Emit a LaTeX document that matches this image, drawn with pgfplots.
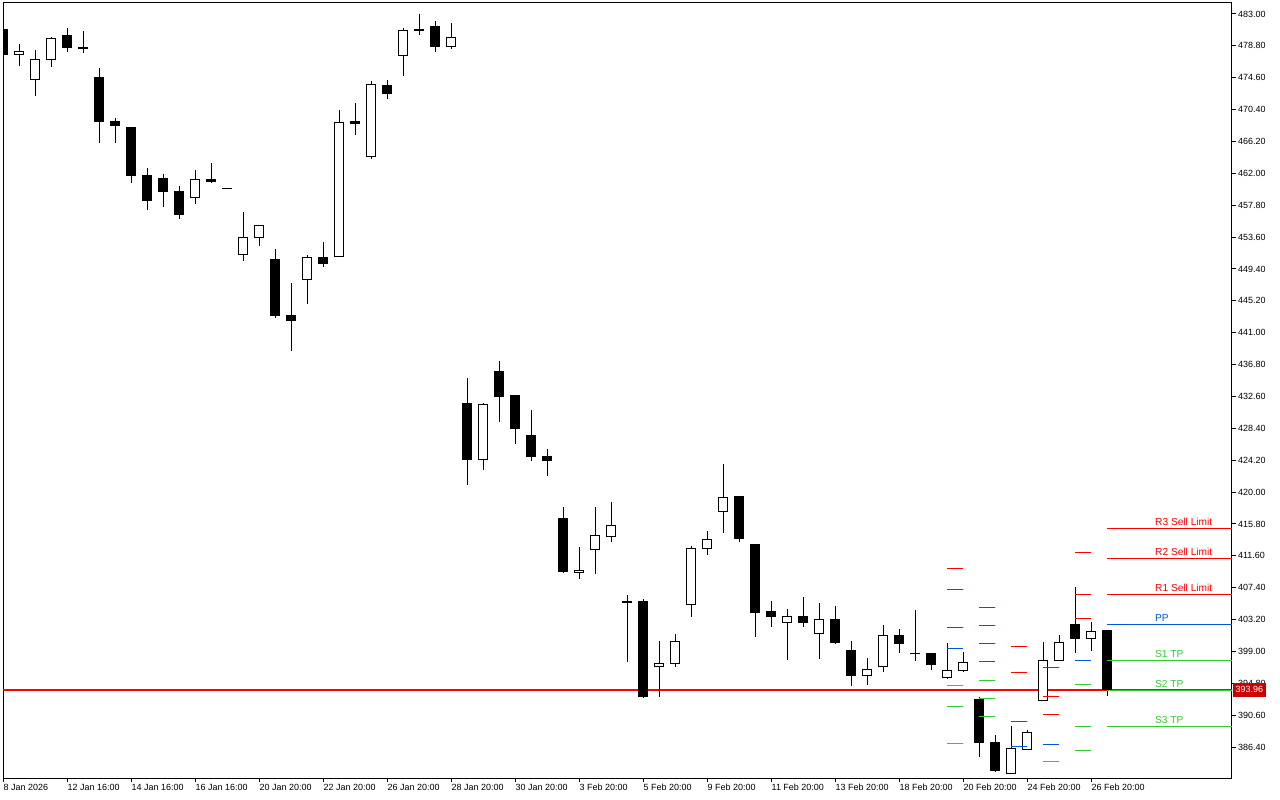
\documentclass[border=0pt]{standalone}
\usepackage{pgfplots}
\pgfplotsset{compat=1.18}
\usepgfplotslibrary{statistics}
\usepackage{pgfplotstable}
\usepackage{fontspec}
\setmainfont{Liberation Sans}
\definecolor{pvred}{RGB}{255,0,0}
\definecolor{pvblue}{RGB}{0,85,221}
\definecolor{pvgreen}{RGB}{50,205,50}
\definecolor{pricebox}{RGB}{204,0,0}

% candle index, open, high, low, close
\pgfplotstableread{
x o h l c
0 481.02 481.30 477.40 477.64
1 477.64 479.05 476.19 478.08
2 474.39 478.26 472.23 477.03
3 477.03 479.93 476.06 479.80
4 480.23 481.15 478.03 478.56
5 478.65 480.76 477.90 478.43
6 474.57 475.88 466.04 468.81
7 468.77 469.29 466.04 468.28
8 467.98 467.98 460.77 461.69
9 461.78 462.70 457.21 458.40
10 461.35 461.95 457.60 459.58
11 459.67 460.33 456.02 456.55
12 458.84 462.44 458.00 461.21
13 461.21 463.36 460.77 460.91
14 459.94 459.94 459.94 459.94
15 451.33 456.91 450.49 453.57
16 453.57 455.15 452.47 455.15
17 450.71 452.03 442.98 443.24
18 443.33 447.55 438.63 442.58
19 448.04 451.20 444.82 450.94
20 450.94 452.91 449.70 450.15
21 451.07 470.31 451.02 468.73
22 468.77 471.27 467.09 468.54
23 464.25 474.17 463.93 473.74
24 473.60 474.30 471.76 472.50
25 477.56 481.15 474.87 480.85
26 481.02 483.00 480.19 480.80
27 481.29 482.08 478.03 478.69
28 478.69 481.81 478.43 479.93
29 431.73 435.03 420.97 424.26
30 424.32 431.73 422.95 431.60
31 435.95 437.27 429.27 432.56
32 432.66 432.66 426.37 428.44
33 427.39 430.81 424.13 424.66
34 424.75 425.67 422.16 424.13
35 416.58 418.03 409.42 409.50
36 409.42 412.76 408.58 409.73
37 412.46 418.03 409.24 414.30
38 414.17 418.69 413.38 415.62
39 405.64 406.43 397.64 405.42
40 405.64 405.90 392.95 393.03
41 397.04 400.37 392.95 397.43
42 397.43 401.29 396.98 400.33
43 405.21 412.89 403.57 412.59
44 412.59 414.87 411.74 413.77
45 417.46 423.70 414.64 419.31
46 419.35 419.48 413.38 413.85
47 413.15 413.15 400.94 404.10
48 404.23 405.64 402.25 403.57
49 402.83 404.59 397.90 403.62
50 403.62 406.17 402.25 402.78
51 401.38 405.38 398.04 403.23
52 403.23 404.98 400.01 400.15
53 399.18 400.37 394.48 395.80
54 395.85 398.13 394.61 396.64
55 397.04 402.48 396.33 401.12
56 401.12 401.95 398.83 400.07
57 398.75 404.46 397.77 398.75
58 398.75 398.75 396.58 397.30
59 395.59 400.11 395.32 396.51
60 396.51 398.92 396.24 397.56
61 392.73 392.95 385.04 387.02
62 387.02 387.94 383.07 383.33
63 382.93 389.17 382.93 386.23
64 386.10 388.60 385.96 388.34
65 392.55 400.24 392.42 397.83
66 397.83 401.16 397.69 400.20
67 402.57 407.49 398.75 400.73
68 400.73 402.83 399.01 401.65
69 401.78 401.78 393.16 393.96
}\candles

\begin{document}
\begin{tikzpicture}
\path[use as bounding box, fill=white] (-3bp,-22bp) rectangle (1277bp,778bp);
\begin{axis}[
  at={(0,0)}, anchor=south west,
  scale only axis, width=1229bp, height=775bp,
  xmin=0, xmax=76.81, ymin=382.32, ymax=484.45,
  axis line style={black, line width=1bp},
  /pgf/number format/assume math mode=true,
  xtick={0,4,8,12,16,20,24,28,32,36,40,44,48,52,56,60,64,68},
  xticklabels={8 Jan 2026,12 Jan 16:00,14 Jan 16:00,16 Jan 16:00,20 Jan 20:00,22 Jan 20:00,26 Jan 20:00,28 Jan 20:00,30 Jan 20:00,3 Feb 20:00,5 Feb 20:00,9 Feb 20:00,11 Feb 20:00,13 Feb 20:00,18 Feb 20:00,20 Feb 20:00,24 Feb 20:00,26 Feb 20:00},
  ytick={386.4,390.6,394.8,399.0,403.2,407.4,411.6,415.8,420.0,424.2,428.4,432.6,436.8,441.0,445.2,449.4,453.6,457.8,462.0,466.2,470.4,474.6,478.8,483.0},
  xtick pos=bottom, ytick pos=right, yticklabel pos=right,
  tick align=outside, major tick length=4.5bp,
  tick style={black, line width=1bp},
  yticklabel style={/pgf/number format/.cd, fixed, fixed zerofill, precision=2, 1000 sep={}, /tikz/.cd,
    font=\fontsize{9}{10}\selectfont, anchor=west, inner sep=0pt, xshift=1.5bp},
  xticklabel style={font=\fontsize{9}{10}\selectfont, anchor=north west, inner sep=0pt, xshift=0.5bp, yshift=-1.5bp},
  unbounded coords=jump,
  candle/.style={draw=black, line width=1bp, solid, mark=none,
    boxplot/draw direction=y, boxplot/whisker extend=0, boxplot/box extend=0.6},
  lvl/.style={line width=1bp, mark=none},
]
% current price line (behind the candles)
\addplot[line width=1.8bp, mark=none, color=pvred] coordinates {(0,393.96) (76.81,393.96)};

% candles
\pgfplotsforeachungrouped \k in {0,...,69}{%
  \pgfplotstablegetelem{\k}{x}\of\candles \let\cx\pgfplotsretval
  \pgfplotstablegetelem{\k}{o}\of\candles \let\co\pgfplotsretval
  \pgfplotstablegetelem{\k}{h}\of\candles \let\ch\pgfplotsretval
  \pgfplotstablegetelem{\k}{l}\of\candles \let\cl\pgfplotsretval
  \pgfplotstablegetelem{\k}{c}\of\candles \let\cc\pgfplotsretval
  \ifdim\cc pt<\co pt
    \edef\tmp{\noexpand\addplot[candle, fill=black, boxplot prepared={draw position=\cx, lower whisker=\cl, lower quartile=\cc, median=\cc, upper quartile=\co, upper whisker=\ch}] coordinates {};}%
  \else
    \edef\tmp{\noexpand\addplot[candle, fill=white, boxplot prepared={draw position=\cx, lower whisker=\cl, lower quartile=\co, median=\co, upper quartile=\cc, upper whisker=\ch}] coordinates {};}%
  \fi
  \tmp
}

% pivot resistance levels
\addplot[lvl, pvred] coordinates {
(59,409.95)(60,409.95)(60,nan)
(59,407.18)(60,407.18)(60,nan)
(59,402.21)(60,402.21)(60,nan)
(61,404.81)(62,404.81)(62,nan)
(61,402.44)(62,402.44)(62,nan)
(61,400.07)(62,400.07)(62,nan)
(63,399.71)(64,399.71)(64,nan)
(63,396.24)(64,396.24)(64,nan)
(63,389.79)(64,389.79)(64,nan)
(65,396.90)(66,396.90)(66,nan)
(65,393.08)(66,393.08)(66,nan)
(65,390.71)(66,390.71)(66,nan)
(67,412.10)(68,412.10)(68,nan)
(67,406.52)(68,406.52)(68,nan)
(67,403.36)(68,403.36)(68,nan)
(69,415.22)(76.81,415.22)(76.81,nan)
(69,411.27)(76.81,411.27)(76.81,nan)
(69,406.52)(76.81,406.52)
};
% pivot points
\addplot[lvl, pvblue] coordinates {
(59,399.41)(60,399.41)(60,nan)
(61,397.70)(62,397.70)(62,nan)
(63,386.49)(64,386.49)(64,nan)
(65,386.76)(66,386.76)(66,nan)
(67,397.83)(68,397.83)(68,nan)
(69,402.57)(76.81,402.57)
};
% pivot support levels
\addplot[lvl, pvgreen] coordinates {
(59,394.53)(60,394.53)(60,nan)
(59,391.76)(60,391.76)(60,nan)
(59,386.89)(60,386.89)(60,nan)
(61,395.19)(62,395.19)(62,nan)
(61,392.82)(62,392.82)(62,nan)
(61,390.45)(62,390.45)(62,nan)
(65,384.52)(66,384.52)(66,nan)
(67,394.66)(68,394.66)(68,nan)
(67,389.13)(68,389.13)(68,nan)
(67,385.97)(68,385.97)(68,nan)
(69,397.83)(76.81,397.83)(76.81,nan)
(69,393.87)(76.81,393.87)(76.81,nan)
(69,389.13)(76.81,389.13)
};

\begin{scope}[every node/.style={anchor=base west, inner sep=0pt, yshift=3.3bp, font=\fontsize{10.2}{11}\selectfont}]
\node[text=pvred] at (axis cs:72,415.22) {R3 Sell Limit};
\node[text=pvred] at (axis cs:72,411.27) {R2 Sell Limit};
\node[text=pvred] at (axis cs:72,406.52) {R1 Sell Limit};
\node[text=pvblue] at (axis cs:72,402.57) {PP};
\node[text=pvgreen] at (axis cs:72,397.83) {S1 TP};
\node[text=pvgreen] at (axis cs:72,393.87) {S2 TP};
\node[text=pvgreen] at (axis cs:72,389.13) {S3 TP};
\end{scope}
\coordinate (pricept) at (axis cs:76.81,393.96);
\end{axis}
\node[anchor=west, fill=pricebox, text=white, inner xsep=2.5bp, inner ysep=0pt, minimum height=14bp, xshift=1bp, font=\fontsize{9}{10}\selectfont] at (pricept) {393.96};
\end{tikzpicture}
\end{document}
